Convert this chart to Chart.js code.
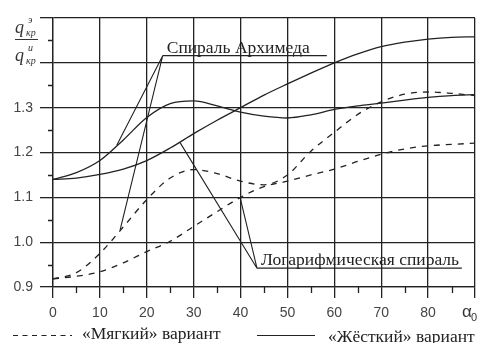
<!DOCTYPE html>
<html>
<head>
<meta charset="utf-8">
<script src="https://cdn.jsdelivr.net/npm/chart.js@4/dist/chart.umd.min.js"></script>
<style>
  body { margin: 0; background: #fff; }
  #wrap { width: 483px; height: 343px; }
</style>
</head>
<body>
<div id="wrap"><canvas id="chart" width="483" height="343"></canvas></div>
<script>
// угол α0, градусы
const angles = [0, 5, 10, 15, 20, 25, 30, 35, 40, 45, 50, 55, 60, 65, 70, 75, 80, 85, 90];

// «Жёсткий» вариант (сплошные)
const archHard = [1.140, 1.155, 1.182, 1.228, 1.278, 1.309, 1.315, 1.304, 1.290, 1.281, 1.277, 1.284, 1.296, 1.304, 1.310, 1.317, 1.323, 1.327, 1.329];
const logHard  = [1.140, 1.143, 1.151, 1.163, 1.182, 1.210, 1.242, 1.272, 1.300, 1.328, 1.353, 1.377, 1.400, 1.420, 1.436, 1.446, 1.453, 1.457, 1.458];

// «Мягкий» вариант (пунктир)
const archSoft = [0.918, 0.932, 0.975, 1.034, 1.095, 1.143, 1.162, 1.153, 1.136, 1.128, 1.150, 1.203, 1.245, 1.285, 1.313, 1.330, 1.335, 1.332, 1.327];
const logSoft  = [0.918, 0.924, 0.934, 0.954, 0.979, 1.002, 1.035, 1.068, 1.100, 1.124, 1.136, 1.150, 1.163, 1.180, 1.196, 1.208, 1.215, 1.218, 1.221];

// подписи делений
const xTickLabels = [0, 10, 20, 30, 40, 50, 60, 70, 80];
const yTickLabels = [0.9, 1.0, 1.1, 1.2, 1.3];

// выноски (в единицах осей)
const notes = [
  { text: 'Спираль Архимеда', apex: { x: 23.4, y: 1.416 }, endX: 58.4,
    targets: [{ x: 13.6, y: 1.216 }, { x: 14.3, y: 1.027 }] },
  { text: 'Логарифмическая спираль', apex: { x: 43.5, y: 0.942 }, endX: 87.2,
    targets: [{ x: 27.1, y: 1.222 }, { x: 39.9, y: 1.100 }] }
];

const INK = '#222';
const toPts = arr => angles.map((a, i) => ({ x: a, y: arr[i] }));

function line(ds, data, dashed) {
  return {
    label: ds,
    data: toPts(data),
    borderColor: INK,
    borderWidth: 1.3,
    borderDash: dashed ? [6, 6] : [],
    pointRadius: 0,
    fill: false,
    cubicInterpolationMode: 'monotone'
  };
}

const extras = {
  id: 'extras',
  afterDraw(chart) {
    const ctx = chart.ctx;
    const xs = chart.scales.x, ys = chart.scales.y;
    const area = chart.chartArea;
    ctx.save();
    ctx.strokeStyle = INK;
    ctx.fillStyle = INK;
    ctx.lineWidth = 1.3;

    // мелкие деления
    ctx.beginPath();
    for (let v = 5; v < 90; v += 10) {
      const px = Math.round(xs.getPixelForValue(v)) + 0.5;
      ctx.moveTo(px, area.bottom);
      ctx.lineTo(px, area.bottom + 6);
    }
    for (let v = 0.95; v < 1.5; v += 0.1) {
      const py = Math.round(ys.getPixelForValue(v)) + 0.5;
      ctx.moveTo(area.left - 5, py);
      ctx.lineTo(area.left, py);
    }
    ctx.stroke();

    // выноски
    ctx.lineWidth = 1.1;
    ctx.font = '17.5px "Liberation Serif", serif';
    ctx.textBaseline = 'alphabetic';
    notes.forEach(n => {
      const ax = xs.getPixelForValue(n.apex.x), ay = ys.getPixelForValue(n.apex.y);
      ctx.beginPath();
      n.targets.forEach(t => {
        ctx.moveTo(ax, ay);
        ctx.lineTo(xs.getPixelForValue(t.x), ys.getPixelForValue(t.y));
      });
      ctx.moveTo(ax, ay);
      ctx.lineTo(xs.getPixelForValue(n.endX), ay);
      ctx.stroke();
      ctx.fillText(n.text, ax + 4, ay - 3);
    });

    // подпись оси Y: q_кр^э / q_кр^и
    ctx.fillStyle = '#333';
    ctx.font = 'italic 18px "Liberation Serif", serif';
    ctx.fillText('q', 15, 33);
    ctx.fillText('q', 15, 61);
    ctx.font = 'italic 10px "Liberation Serif", serif';
    ctx.fillText('э', 28, 23);
    ctx.fillText('кр', 26, 36);
    ctx.fillText('и', 28, 51);
    ctx.fillText('кр', 26, 64);
    ctx.strokeStyle = '#333';
    ctx.lineWidth = 1;
    ctx.beginPath();
    ctx.moveTo(15, 39.5);
    ctx.lineTo(38, 39.5);
    ctx.stroke();

    // подпись оси X: α0
    ctx.font = '17px "Liberation Sans", sans-serif';
    ctx.fillText('α', 462, 317);
    ctx.font = '11px "Liberation Sans", sans-serif';
    ctx.fillText('0', 471, 321);

    // легенда
    ctx.fillStyle = INK;
    ctx.strokeStyle = INK;
    ctx.lineWidth = 1.2;
    ctx.setLineDash([5, 4.5]);
    ctx.beginPath();
    ctx.moveTo(13, 335.5);
    ctx.lineTo(72, 335.5);
    ctx.stroke();
    ctx.setLineDash([]);
    ctx.beginPath();
    ctx.moveTo(257, 335.5);
    ctx.lineTo(315, 335.5);
    ctx.stroke();
    ctx.font = '17.5px "Liberation Serif", serif';
    ctx.fillText('«Мягкий» вариант', 82, 339);
    ctx.fillText('«Жёсткий» вариант', 328, 342);
    ctx.restore();
  }
};

new Chart(document.getElementById('chart').getContext('2d'), {
  type: 'line',
  data: {
    datasets: [
      line('Спираль Архимеда, «Жёсткий»', archHard, false),
      line('Логарифмическая спираль, «Жёсткий»', logHard, false),
      line('Спираль Архимеда, «Мягкий»', archSoft, true),
      line('Логарифмическая спираль, «Мягкий»', logSoft, true)
    ]
  },
  options: {
    responsive: false,
    animation: false,
    devicePixelRatio: 1,
    layout: { padding: { top: 18, right: 8, left: 0, bottom: 0 } },
    plugins: { legend: { display: false }, tooltip: { enabled: false } },
    scales: {
      x: {
        type: 'linear',
        min: 0,
        max: 90,
        afterFit: s => { s.height = 56; },
        ticks: {
          stepSize: 10,
          padding: 7,
          maxRotation: 0,
          color: '#444',
          font: { family: '"Liberation Sans", sans-serif', size: 14 },
          callback: v => xTickLabels.includes(v) ? String(v) : ''
        },
        grid: { color: INK, lineWidth: 1.3, tickLength: 11, tickColor: INK },
        border: { color: INK, width: 1.3 }
      },
      y: {
        min: 0.9,
        max: 1.5,
        afterFit: s => { s.width = 53; },
        ticks: {
          stepSize: 0.1,
          padding: 7,
          color: '#444',
          font: { family: '"Liberation Sans", sans-serif', size: 14 },
          callback: v => yTickLabels.some(t => Math.abs(t - v) < 1e-6) ? v.toFixed(1) : ''
        },
        grid: { color: INK, lineWidth: 1.3, tickLength: 13, tickColor: INK },
        border: { color: INK, width: 1.3 }
      }
    }
  },
  plugins: [extras]
});
</script>
</body>
</html>
